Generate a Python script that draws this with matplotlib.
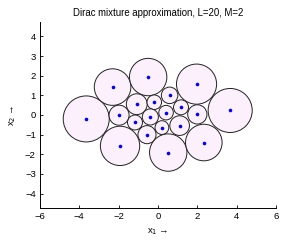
import matplotlib
matplotlib.use('Agg')
import matplotlib.pyplot as plt
from matplotlib.patches import Circle

plt.rcParams['font.family'] = ['Liberation Sans', 'DejaVu Sans']

# Dirac component locations and circle radii
x1 = [-3.65, -2.31, -0.50, 1.96, 3.67, -1.93, 0.52, 2.33,
      -1.98, -1.08, -0.19, 0.59, 1.17, 2.00, 0.41, -0.39,
      -1.17, 0.20, 1.10, -0.56]
x2 = [-0.20, 1.42, 1.93, 1.57, 0.23, -1.57, -1.91, -1.40,
      -0.01, 0.55, 0.65, 1.00, 0.39, 0.03, 0.12, -0.10,
      -0.38, -0.64, -0.54, -1.00]
r = [1.17, 0.93, 0.95, 1.02, 1.12, 1.00, 0.95, 0.93,
     0.51, 0.53, 0.37, 0.42, 0.38, 0.49, 0.37, 0.41,
     0.38, 0.35, 0.50, 0.46]

fig = plt.figure(figsize=(2.84, 2.41), dpi=100)
ax = fig.add_axes([40/284, 33/241, 236/284, 186/241])

for cx, cy, rr in zip(x1, x2, r):
    ax.add_patch(Circle((cx, cy), rr, facecolor='#fcf0fc', edgecolor='#222222', linewidth=0.7))
ax.plot(x1, x2, 'o', color='#0000ff', markersize=2.6, markeredgewidth=0)

ax.set_xlim(-6, 6)
ax.set_ylim(-4.73, 4.73)
ax.set_xticks(range(-6, 7, 2))
ax.set_yticks(range(-4, 5))
ax.set_xticklabels([str(v).replace('-', '\u2212') for v in range(-6, 7, 2)])
ax.set_yticklabels([str(v).replace('-', '\u2212') for v in range(-4, 5)])
ax.tick_params(direction='in', length=2.5, width=0.6, labelsize=6.8, pad=3)
ax.spines['top'].set_visible(False)
ax.spines['right'].set_visible(False)
for s in ['left', 'bottom']:
    ax.spines[s].set_linewidth(0.7)

ax.set_xlabel('x$_1$ \u2192', fontsize=6.8, labelpad=4)
ax.set_ylabel('x$_2$ \u2192', fontsize=6.8, labelpad=5)
ax.set_title('Dirac mixture approximation, L=20, M=2', fontsize=6.9, pad=4)

fig.savefig('out.png', dpi=100)
